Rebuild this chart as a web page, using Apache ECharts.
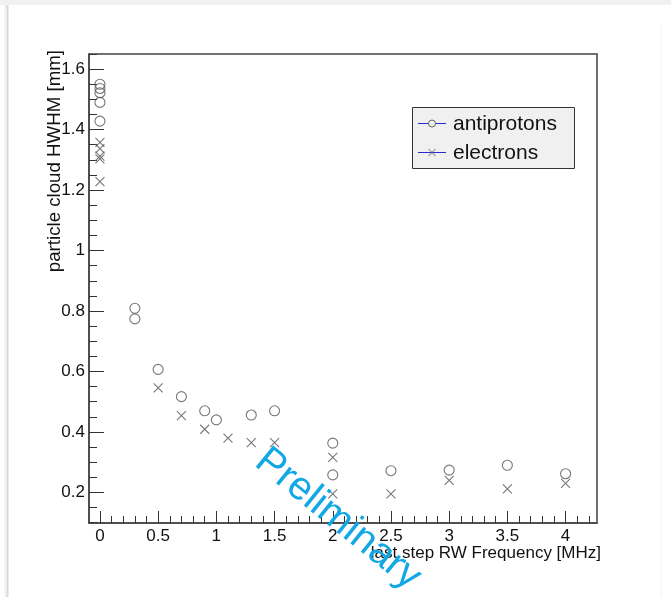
<!DOCTYPE html>
<html>
<head>
<meta charset="utf-8">
<script src="https://cdn.jsdelivr.net/npm/echarts@6/dist/echarts.min.js"></script>
<style>
  html, body { margin: 0; padding: 0; background: #ffffff; }
  #chart { width: 671px; height: 597px; }
</style>
</head>
<body>
<div id="chart"></div>
<script>
// Antiproton cloud HWHM [mm] versus last-step RW frequency [MHz]
const antiprotonFreq = [0, 0, 0, 0, 0, 0.3, 0.3, 0.5, 0.7, 0.9, 1.0, 1.3, 1.5, 2, 2, 2.5, 3, 3.5, 4];
const antiprotonHwhm = [1.550, 1.536, 1.522, 1.490, 1.428, 0.809, 0.774, 0.607, 0.517, 0.470, 0.440, 0.456, 0.470, 0.363, 0.258, 0.272, 0.274, 0.290, 0.262];

// Electron cloud HWHM [mm] versus last-step RW frequency [MHz]
const electronFreq = [0, 0, 0, 0, 0, 0.5, 0.7, 0.9, 1.1, 1.3, 1.5, 2, 2, 2.5, 3, 3.5, 4];
const electronHwhm = [1.358, 1.337, 1.312, 1.303, 1.228, 0.546, 0.454, 0.409, 0.380, 0.365, 0.365, 0.316, 0.195, 0.195, 0.240, 0.212, 0.230];

// Axis ticks
const xMajorTicks = [0, 0.5, 1, 1.5, 2, 2.5, 3, 3.5, 4];
const xMinorTicks = [0.1, 0.2, 0.3, 0.4, 0.6, 0.7, 0.8, 0.9, 1.1, 1.2, 1.3, 1.4, 1.6, 1.7, 1.8, 1.9,
                     2.1, 2.2, 2.3, 2.4, 2.6, 2.7, 2.8, 2.9, 3.1, 3.2, 3.3, 3.4, 3.6, 3.7, 3.8, 3.9, 4.1, 4.2];
const yMajorTicks = [0.2, 0.4, 0.6, 0.8, 1, 1.2, 1.4, 1.6];
const yMinorTicks = [0.1, 0.15, 0.25, 0.3, 0.35, 0.45, 0.5, 0.55, 0.65, 0.7, 0.75, 0.85, 0.9, 0.95,
                     1.05, 1.1, 1.15, 1.25, 1.3, 1.35, 1.45, 1.5, 1.55, 1.65];

const xRange = [-0.094, 4.27];
const yRange = [0.099, 1.65];

const FONT = "'Liberation Sans', Arial, sans-serif";
const MARK = '#555555';
const crossPath = 'path://M0,0L10,10M10,0L0,10';

const pairs = (xs, ys) => xs.map((x, i) => [x, ys[i]]);

const chart = echarts.init(document.getElementById('chart'), null, { renderer: 'canvas' });

const xBase = {
  type: 'value', min: xRange[0], max: xRange[1], position: 'bottom', gridIndex: 0,
  splitLine: { show: false }
};
const yBase = {
  type: 'value', min: yRange[0], max: yRange[1], position: 'left', gridIndex: 0,
  splitLine: { show: false }
};

chart.setOption({
  animation: false,
  backgroundColor: '#ffffff',
  grid: {
    left: 89, top: 54, right: 74, bottom: 74,
    show: true, borderColor: '#444', borderWidth: 1.5, backgroundColor: 'transparent'
  },
  xAxis: [
    Object.assign({}, xBase, {
      axisLine: { show: true, onZero: false, lineStyle: { color: '#444', width: 1.5 } },
      axisTick: { show: true, inside: true, length: 12, customValues: xMajorTicks, lineStyle: { color: '#333', width: 1 } },
      axisLabel: { show: true, customValues: xMajorTicks, margin: 5, color: '#111', fontSize: 17, fontFamily: FONT }
    }),
    Object.assign({}, xBase, {
      axisLine: { show: false, onZero: false },
      axisTick: { show: true, inside: true, length: 7, customValues: xMinorTicks, lineStyle: { color: '#333', width: 1 } },
      axisLabel: { show: false }
    })
  ],
  yAxis: [
    Object.assign({}, yBase, {
      axisLine: { show: true, onZero: false, lineStyle: { color: '#444', width: 1.5 } },
      axisTick: { show: true, inside: true, length: 15, customValues: yMajorTicks, lineStyle: { color: '#333', width: 1 } },
      axisLabel: { show: true, customValues: yMajorTicks, margin: 4, color: '#111', fontSize: 17, fontFamily: FONT }
    }),
    Object.assign({}, yBase, {
      axisLine: { show: false, onZero: false },
      axisTick: { show: true, inside: true, length: 8, customValues: yMinorTicks, lineStyle: { color: '#333', width: 1 } },
      axisLabel: { show: false }
    })
  ],
  series: [
    {
      name: 'antiprotons', type: 'scatter', xAxisIndex: 0, yAxisIndex: 0,
      symbol: 'circle', symbolSize: 10,
      itemStyle: { color: 'rgba(0,0,0,0)', borderColor: MARK, borderWidth: 1.1 },
      data: pairs(antiprotonFreq, antiprotonHwhm), z: 3
    },
    {
      name: 'electrons', type: 'scatter', xAxisIndex: 0, yAxisIndex: 0,
      symbol: crossPath, symbolSize: 9,
      itemStyle: { color: 'rgba(0,0,0,0)', borderColor: MARK, borderWidth: 1.1 },
      data: pairs(electronFreq, electronHwhm), z: 3
    }
  ],
  graphic: [
    // page edges around the canvas pad
    { type: 'rect', shape: { x: 0, y: 0, width: 671, height: 5 }, style: { fill: '#f1f1f1' }, silent: true },
    { type: 'line', shape: { x1: 7.5, y1: 5, x2: 7.5, y2: 597 }, style: { stroke: '#d6d6d6', lineWidth: 2 }, silent: true },
    { type: 'line', shape: { x1: 5.5, y1: 5, x2: 5.5, y2: 597 }, style: { stroke: '#efefef', lineWidth: 2 }, silent: true },
    { type: 'line', shape: { x1: 661, y1: 25, x2: 661, y2: 597 }, style: { stroke: '#f2f2f2', lineWidth: 1 }, silent: true },
    // clipped heading above the pad
    { type: 'text', x: 90, y: -12, style: { text: 'y p', font: "bold 22px " + FONT, fill: '#000', verticalAlign: 'middle' }, silent: true },
    { type: 'text', x: 219, y: -12, style: { text: 'p', font: "bold 22px " + FONT, fill: '#000', verticalAlign: 'middle' }, silent: true },
    // axis titles
    { type: 'text', x: 601, y: 553, style: { text: 'last step RW Frequency [MHz]', font: "17px " + FONT, fill: '#111', align: 'right', verticalAlign: 'middle' }, z: 10 },
    { type: 'text', x: 55, y: 50, rotation: Math.PI / 2, style: { text: 'particle cloud HWHM [mm]', font: "18.7px " + FONT, fill: '#111', align: 'right', verticalAlign: 'middle' }, z: 10 },
    // legend box
    {
      type: 'group', z: 20,
      children: [
        { type: 'rect', shape: { x: 412.5, y: 107.5, width: 162, height: 61 }, style: { fill: '#f0f0f0', stroke: '#333', lineWidth: 1 } },
        { type: 'line', shape: { x1: 418, y1: 123.5, x2: 446, y2: 123.5 }, style: { stroke: '#2a2acc', lineWidth: 1 } },
        { type: 'circle', shape: { cx: 432, cy: 123.5, r: 3.5 }, style: { fill: '#f0f0f0', stroke: '#666', lineWidth: 1 } },
        { type: 'text', x: 453, y: 124, style: { text: 'antiprotons', font: "21px " + FONT, fill: '#111', verticalAlign: 'middle' } },
        { type: 'line', shape: { x1: 418, y1: 152.5, x2: 446, y2: 152.5 }, style: { stroke: '#2a2acc', lineWidth: 1 } },
        { type: 'polyline', shape: { points: [[428.5, 149], [435.5, 156]] }, style: { stroke: '#666', lineWidth: 1 } },
        { type: 'polyline', shape: { points: [[435.5, 149], [428.5, 156]] }, style: { stroke: '#666', lineWidth: 1 } },
        { type: 'text', x: 453, y: 153, style: { text: 'electrons', font: "21px " + FONT, fill: '#111', verticalAlign: 'middle' } }
      ]
    },
    // watermark
    {
      type: 'text', x: 338, y: 519, rotation: -0.68, z: 30,
      style: { text: 'Preliminary', font: "40px " + FONT, fill: '#12a8e6', align: 'center', verticalAlign: 'middle' }
    }
  ]
});
</script>
</body>
</html>
